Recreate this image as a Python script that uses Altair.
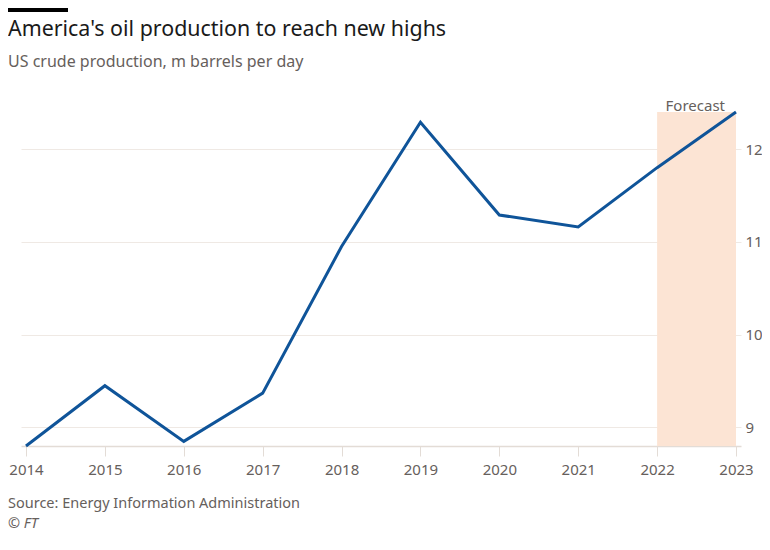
import altair as alt
import pandas as pd

years = [2014, 2015, 2016, 2017, 2018, 2019, 2020, 2021, 2022, 2023]
production = [8.8, 9.45, 8.85, 9.37, 10.95, 12.29, 11.29, 11.16, 11.8, 12.4]
y_ticks = [9, 10, 11, 12]
forecast_start, forecast_end = 2022, 2023
y_min, y_max = 8.8, 12.4

title = "America's oil production to reach new highs"
subtitle = "US crude production, m barrels per day"
source = "Source: Energy Information Administration"
credit = "© FT"

FONT = "Noto Sans"
GREY = "#66605c"

df = pd.DataFrame({"year": years, "value": production})
shade_df = pd.DataFrame({"start": [forecast_start], "end": [forecast_end],
                         "lo": [y_min], "hi": [y_max]})
label_df = pd.DataFrame({"year": [forecast_end], "value": [y_max], "t": ["Forecast"]})
one = pd.DataFrame({"k": [0]})

xscale = alt.Scale(domain=[years[0], years[-1]], padding=5, nice=False, zero=False)
yscale = alt.Scale(domain=[y_min, y_max], nice=False, zero=False)

x_axis = alt.Axis(values=years, format="d", title=None, grid=False,
                  domainColor="#e3dcd6", domainWidth=1.5, tickColor="#e3dcd6",
                  tickSize=10, tickWidth=1, labelPadding=6, labelFontSize=15,
                  labelColor=GREY, labelFont=FONT)
y_axis = alt.Axis(orient="right", values=y_ticks, format="d", title=None, grid=True,
                  gridColor="#efe9e4", gridWidth=1, domain=False, ticks=False,
                  labelPadding=4, labelFontSize=15, labelColor=GREY, labelFont=FONT)

shade = alt.Chart(shade_df).mark_rect(color="#fce4d4").encode(
    x=alt.X("start:Q", scale=xscale, axis=x_axis),
    x2="end:Q",
    y=alt.Y("lo:Q", scale=yscale, axis=y_axis),
    y2="hi:Q",
)

line = alt.Chart(df).mark_line(color="#0f5499", strokeWidth=3).encode(
    x=alt.X("year:Q", scale=xscale, axis=x_axis),
    y=alt.Y("value:Q", scale=yscale, axis=y_axis),
)

flabel = alt.Chart(label_df).mark_text(
    align="right", baseline="middle", dx=-11, dy=-6, fontSize=15, font=FONT, color=GREY
).encode(x=alt.X("year:Q", scale=xscale), y=alt.Y("value:Q", scale=yscale), text="t:N")

LEFT = 13
bar = alt.Chart(one).mark_rule(color="#000000", strokeWidth=4).encode(
    x=alt.value(-LEFT), x2=alt.value(60 - LEFT), y=alt.value(-102))

def txt(s, x, y, size, color, italic=False):
    return alt.Chart(one).mark_text(
        align="left", baseline="middle", fontSize=size, font=FONT, color=color,
        fontStyle="italic" if italic else "normal"
    ).encode(x=alt.value(x), y=alt.value(y), text=alt.value(s))

t1 = txt(title, -LEFT, -82, 21.4, "#1a1a1a")
t2 = txt(subtitle, -LEFT, -50, 16, GREY)
t3 = txt(source, -LEFT, 392, 14.5, GREY)
t4 = txt(credit, -LEFT, 412, 14.5, GREY, italic=True)

chart = alt.layer(shade, line, flabel, bar, t1, t2, t3, t4).properties(
    width=720, height=334,
    autosize=alt.AutoSizeParams(type="none"),
    padding={"left": LEFT, "top": 104, "right": 21, "bottom": 88},
).configure(background="white").configure_view(stroke=None)

chart.save("out.html", embed_options={"renderer": "svg", "actions": False})
